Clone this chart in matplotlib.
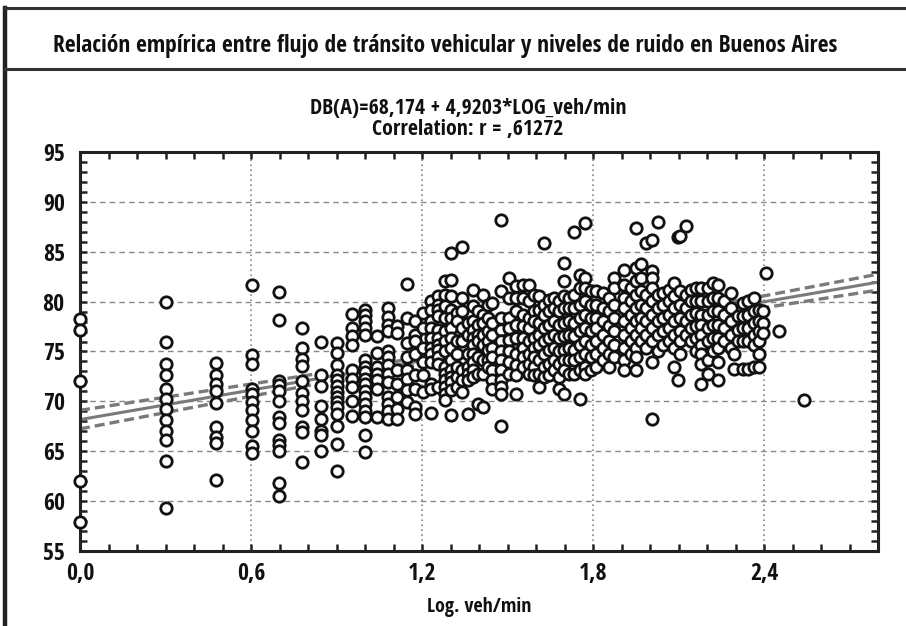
import numpy as np
import matplotlib
matplotlib.use("Agg")
import matplotlib.pyplot as plt
import matplotlib.font_manager as fm
from matplotlib.font_manager import FontProperties
from matplotlib.lines import Line2D
from matplotlib.ticker import MultipleLocator

# columns of points: log10(veh/min) and the dB(A) readings stacked on it
col_x = [0.0, 0.301, 0.477, 0.602, 0.699, 0.778, 0.845, 0.903, 0.954, 1.0,
         1.041, 1.079, 1.114, 1.146, 1.176, 1.204, 1.230, 1.255, 1.279, 1.301,
         1.322, 1.342, 1.362, 1.380, 1.398, 1.415, 1.431, 1.447, 1.477, 1.505,
         1.531, 1.556, 1.577, 1.594, 1.612, 1.627, 1.647, 1.664, 1.682, 1.699,
         1.717, 1.734, 1.755, 1.772, 1.793, 1.811, 1.835, 1.857, 1.875, 1.910,
         1.933, 1.951, 1.968, 1.986, 2.006, 2.027, 2.044, 2.068, 2.085, 2.097,
         2.106, 2.126, 2.144, 2.161, 2.179, 2.202, 2.220, 2.237, 2.261, 2.284,
         2.296, 2.308, 2.325, 2.343, 2.366, 2.384, 2.395, 2.407, 2.454, 2.539]
col_db = [
    [78.3, 77.2, 72.0, 62.0, 57.9],
    [80.0, 76.0, 73.7, 72.6, 71.2, 70.2, 69.2, 68.1, 67.0, 66.1, 64.0, 59.3],
    [73.8, 72.6, 71.7, 71.0, 69.8, 67.4, 66.4, 65.8, 62.1],
    [81.7, 74.6, 73.7, 71.2, 70.7, 69.9, 69.1, 68.1, 67.0, 65.5, 64.8],
    [81.0, 78.2, 72.0, 71.6, 71.0, 70.0, 68.4, 67.8, 66.1, 65.6, 65.0, 61.8, 60.5],
    [77.4, 75.4, 74.2, 73.5, 72.0, 70.8, 70.0, 69.1, 67.4, 66.9, 63.9],
    [76.0, 72.6, 71.5, 69.5, 68.2, 67.0, 66.6, 65.0],
    [75.9, 74.8, 73.6, 72.6, 72.1, 71.5, 70.9, 70.4, 69.9, 69.4, 68.7, 67.5, 65.7, 63.0],
    [78.8, 77.4, 76.6, 75.7, 73.1, 72.2, 71.4, 70.0, 68.5],
    [79.2, 78.7, 78.1, 77.4, 76.7, 74.1, 73.4, 72.9, 72.2, 71.7, 71.0, 70.4, 69.7, 69.0, 68.4, 66.6, 64.9],
    [76.6, 74.8, 73.4, 72.7, 72.1, 71.2, 68.4],
    [79.4, 78.5, 77.7, 77.1, 75.1, 74.4, 73.6, 72.7, 71.9, 70.4, 69.7, 69.0, 68.2],
    [77.6, 76.9, 73.1, 71.7, 70.4, 69.2, 68.2],
    [81.8, 78.4, 75.9, 74.4, 73.1, 72.2, 71.1, 69.9],
    [78.1, 76.7, 76.1, 74.7, 72.6, 71.2, 69.4, 68.7],
    [78.9, 77.4, 75.4, 73.9, 72.6, 70.9],
    [80.1, 79.2, 78.1, 77.4, 76.4, 75.4, 74.7, 73.9, 71.7, 71.2, 68.8],
    [80.6, 79.7, 79.2, 78.6, 77.2, 76.4, 75.7, 75.2, 74.4, 73.7, 71.4],
    [82.1, 80.7, 79.6, 78.4, 77.1, 76.1, 75.1, 73.4, 72.7, 72.1, 71.4, 70.7, 70.1],
    [84.9, 82.2, 80.6, 79.2, 78.4, 77.4, 76.4, 75.4, 74.1, 73.1, 72.4, 71.9, 71.1, 68.6],
    [78.9, 78.1, 76.1, 74.7, 73.4, 72.4, 71.4],
    [85.5, 80.4, 79.1, 77.4, 76.1, 73.1, 72.1, 70.9],
    [77.9, 76.7, 74.7, 73.4, 72.7, 72.1, 68.7],
    [81.2, 79.6, 78.1, 77.2, 76.4, 75.7, 74.7, 73.9, 73.1, 72.4],
    [79.1, 77.7, 76.7, 76.1, 74.4, 72.7, 69.7],
    [80.7, 78.7, 77.9, 76.7, 75.7, 74.1, 72.7, 69.4],
    [79.7, 78.4, 77.1, 76.1, 75.2, 74.1, 73.4],
    [79.9, 77.9, 76.7, 75.4, 74.4, 73.1, 72.1, 71.2],
    [88.2, 81.1, 78.4, 77.2, 76.1, 75.1, 74.1, 73.1, 72.1, 71.4, 70.7, 67.5],
    [82.4, 80.4, 78.4, 77.4, 76.2, 75.1, 73.9, 72.7],
    [81.6, 80.4, 79.1, 77.7, 76.4, 74.7, 73.6, 72.6, 70.7],
    [81.7, 80.4, 78.7, 77.6, 76.4, 75.4, 74.4, 73.4],
    [81.7, 80.1, 78.4, 77.4, 76.1, 74.7, 73.7, 72.7],
    [80.7, 79.1, 78.1, 76.4, 75.4, 74.4, 73.4, 72.6],
    [80.6, 79.2, 77.9, 76.7, 75.7, 74.1, 72.7, 71.4],
    [85.9, 79.7, 78.7, 77.4, 76.1, 74.7, 73.4, 72.4],
    [80.2, 79.1, 77.7, 76.4, 75.2, 73.7, 72.6],
    [80.4, 79.4, 78.1, 76.7, 75.4, 74.1, 73.1],
    [80.1, 79.1, 77.7, 76.4, 75.1, 73.7, 72.4, 71.2],
    [83.9, 82.1, 80.6, 79.4, 77.9, 76.6, 75.2, 74.1, 73.1, 70.7],
    [80.4, 79.4, 78.1, 76.7, 75.4, 74.1, 72.7],
    [87.0, 80.7, 79.4, 77.9, 76.6, 75.2, 74.1, 72.7],
    [82.7, 81.4, 79.7, 78.4, 77.1, 75.7, 74.4, 73.1, 70.2],
    [87.9, 82.4, 81.4, 80.1, 78.7, 77.4, 76.1, 74.7, 73.4, 72.7],
    [81.1, 79.7, 78.4, 77.1, 75.7, 74.4, 73.1],
    [81.1, 79.7, 78.4, 77.4, 76.1, 74.7, 73.4],
    [80.9, 79.4, 78.1, 76.7, 75.4, 74.1],
    [80.4, 79.1, 77.6, 76.1, 74.7, 73.4],
    [82.4, 81.4, 79.7, 78.4, 77.1, 75.7, 74.4],
    [83.2, 81.7, 80.4, 79.4, 78.1, 76.7, 75.4, 74.1, 73.1],
    [81.4, 80.1, 78.7, 77.4, 76.1, 74.7],
    [87.4, 83.4, 82.1, 80.7, 79.4, 78.1, 76.7, 75.4, 74.4, 73.1],
    [83.8, 82.4, 81.1, 79.7, 78.4, 77.4, 76.1],
    [85.9, 80.7, 79.4, 78.1, 76.7, 75.4],
    [86.2, 83.1, 82.4, 81.4, 80.1, 78.7, 77.4, 76.1, 73.9, 68.2],
    [88.0, 80.7, 79.4, 78.1, 76.7, 75.1],
    [80.9, 79.7, 78.4, 77.1, 75.7],
    [81.2, 80.1, 78.7, 77.4, 76.1],
    [81.9, 80.6, 79.4, 78.1, 76.7, 75.4, 73.4],
    [86.5, 72.1],
    [86.6, 81.1, 79.7, 78.4, 77.1, 76.1, 74.7],
    [87.6, 80.7, 79.4, 78.1, 76.7],
    [81.2, 80.1, 78.7, 77.4, 76.1],
    [81.4, 80.1, 78.9, 77.6, 76.4, 75.1],
    [81.4, 80.1, 78.7, 77.7, 76.7, 75.7, 74.7, 73.7, 71.7],
    [81.4, 80.1, 78.7, 77.4, 76.1, 74.1, 72.7],
    [81.9, 80.4, 79.1, 77.7, 76.4, 75.1],
    [81.7, 80.4, 79.1, 77.7, 76.4, 75.4, 73.9, 72.1],
    [80.1, 78.7, 77.4, 76.1],
    [80.9, 79.4, 78.1, 76.7, 75.4],
    [74.7, 73.2],
    [78.6, 77.2, 76.1],
    [79.9, 78.6, 77.4, 76.1, 73.2],
    [80.1, 78.7, 77.4, 76.1, 73.2],
    [80.4, 79.1, 77.9, 76.7, 75.7, 73.4],
    [79.2, 78.1, 77.1, 76.1, 74.7, 73.4],
    [79.1, 77.9, 76.9],
    [82.9],
    [77.1],
    [70.1],
]

# fit printed on the chart
intercept = 68.174
slope = 4.9203

title = "Relación empírica entre flujo de tránsito vehicular y niveles de ruido en Buenos Aires"
eq_text = "DB(A)=68,174 + 4,9203*LOG_veh/min"
corr_text = "Correlation: r = ,61272"
x_label = "Log. veh/min"
x_ticks = [0.0, 0.6, 1.2, 1.8, 2.4]
x_ticklabels = ["0,0", "0,6", "1,2", "1,8", "2,4"]
y_ticks = [55, 60, 65, 70, 75, 80, 85, 90, 95]


def pick_font():
    # a narrow bold face is closest to the original; fall back to Liberation Sans
    prefer = ['liberationsansnarrow-bold', 'opensans-condbold', 'opensans_condensed-bold',
              'robotocondensed-bold', 'dejavusanscondensed-bold']
    found = {}
    for f in fm.fontManager.ttflist:
        fn = f.fname.lower().replace(' ', '')
        if 'italic' in fn or 'oblique' in fn:
            continue
        if ('cond' in fn or 'narrow' in fn) and 'bold' in fn and 'semibold' not in fn \
                and 'extrabold' not in fn:
            found[fn.split('/')[-1]] = f.fname
    for p in prefer:
        for k, v in found.items():
            if k.startswith(p):
                return v
    if found:
        return sorted(found.values())[0]
    return fm.findfont(FontProperties(family='Liberation Sans', weight='bold'))


font_path = pick_font()

x = np.concatenate([np.full(len(v), c) for c, v in zip(col_x, col_db)])
y = np.concatenate([np.array(v) for v in col_db])

fig = plt.figure(figsize=(9.06, 6.26), dpi=100)
W, H = 906, 626
ax = fig.add_axes([80 / W, 1 - 551 / H, 798 / W, 399 / H])
renderer = fig.canvas.get_renderer()


def fitted_size(text, target_px, start=14):
    t = fig.text(0, 0, text, fontproperties=FontProperties(fname=font_path, size=start))
    w = t.get_window_extent(renderer).width
    t.remove()
    return start * target_px / w


# regression line and 95% confidence band
xs = np.linspace(0, 2.8, 200)
ys = intercept + slope * xs
n = len(x)
resid = y - (intercept + slope * x)
s = np.sqrt(np.sum(resid ** 2) / (n - 2))
sxx = np.sum((x - x.mean()) ** 2)
half = 1.96 * s * np.sqrt(1.0 / n + (xs - x.mean()) ** 2 / sxx)

ax.plot(xs, ys, color='#7a7a7a', lw=2.2, zorder=2)
ax.plot(xs, ys + half, color='#7a7a7a', lw=2.4, ls=(0, (3, 1.5)), zorder=2)
ax.plot(xs, ys - half, color='#7a7a7a', lw=2.4, ls=(0, (3, 1.5)), zorder=2)

ax.plot(x, y, 'o', ms=8.2, mfc='white', mec='#111111', mew=2.0, ls='none',
        zorder=3, clip_on=False)

# grid
for gy in range(60, 95, 5):
    ax.axhline(gy, color='#888888', lw=1.0, ls=(0, (4, 3)), zorder=1)
for gx in x_ticks[1:]:
    ax.axvline(gx, color='#888888', lw=1.2, ls=(0, (1, 2)), zorder=1)

title_size = fitted_size(title, 790)
tick_size = fitted_size("95", 22)

ax.set_xlim(0, 2.8)
ax.set_ylim(55, 95)
tick_fp = FontProperties(fname=font_path, size=tick_size)
ax.set_xticks(x_ticks, x_ticklabels, fontproperties=tick_fp)
ax.set_yticks(y_ticks, [str(v) for v in y_ticks], fontproperties=tick_fp)
ax.xaxis.set_minor_locator(MultipleLocator(0.1))
ax.yaxis.set_minor_locator(MultipleLocator(1))
ax.tick_params(which='both', direction='in', top=True, right=True, length=5,
               width=1.8, color='#222222')
ax.tick_params(axis='y', which='major', pad=11, labelcolor='#111111')
ax.tick_params(axis='x', which='major', pad=8, labelcolor='#111111')
for sp in ax.spines.values():
    sp.set_linewidth(2.2)
    sp.set_color('#222222')

fig.text(479 / W, 1 - 612 / H, x_label, ha='center', va='baseline',
         fontproperties=FontProperties(fname=font_path, size=title_size * 0.85),
         color='#111111')

title_fp = FontProperties(fname=font_path, size=title_size)
fig.text(445 / W, 1 - 52 / H, title, ha='center', va='baseline', fontproperties=title_fp,
         color='#111111')
eq_fp = FontProperties(fname=font_path, size=title_size * 0.93)
fig.text(468 / W, 1 - 114 / H, eq_text, ha='center', va='baseline', fontproperties=eq_fp,
         color='#111111')
fig.text(468 / W, 1 - 135 / H, corr_text, ha='center', va='baseline', fontproperties=eq_fp,
         color='#111111')

# outer frame and title separator
fig.add_artist(Line2D([5 / W, 5 / W], [0, 1 - 8 / H], color='#222222', lw=3.2))
fig.add_artist(Line2D([5 / W, 1], [1 - 8 / H, 1 - 8 / H], color='#333333', lw=2.2))
fig.add_artist(Line2D([5 / W, 1], [1 - 69 / H, 1 - 69 / H], color='#333333', lw=2.2))

fig.savefig('out.png', dpi=100)
